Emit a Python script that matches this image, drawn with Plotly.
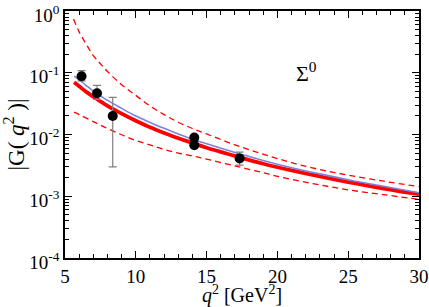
import plotly.graph_objects as go

# Curves
q2_curve = [5.64, 6.0, 6.5, 7.0, 7.5, 8.0, 9.0, 10.0, 11.0, 12.0, 13.0, 14.0, 15.0, 17.0, 19.0, 21.0, 23.0, 25.0, 27.5, 30.0]
g_central = [0.070, 0.0605, 0.049, 0.0410, 0.0345, 0.0292, 0.0218, 0.0167, 0.0131, 0.0106, 0.0087, 0.0073, 0.0061, 0.0045, 0.00336, 0.00262, 0.00209, 0.0017, 0.00133, 0.00108]
g_blue = [0.088, 0.077, 0.062, 0.0505, 0.0425, 0.0357, 0.0265, 0.0199, 0.0157, 0.0126, 0.0102, 0.0084, 0.0071, 0.0051, 0.0038, 0.0029, 0.0023, 0.00185, 0.00145, 0.00114]

q2_upper = [5.6, 6.0, 6.5, 7.0, 7.5, 8.0, 9.0, 10.0, 11.0, 12.0, 13.0, 14.0, 15.0, 17.0, 19.0, 21.0, 23.0, 25.0, 27.5, 30.0]
g_upper = [0.74, 0.46, 0.29, 0.19, 0.14, 0.105, 0.064, 0.043, 0.029, 0.021, 0.0158, 0.0125, 0.0102, 0.0068, 0.0048, 0.0035, 0.0027, 0.0022, 0.00175, 0.00143]

q2_lower = [5.64, 6.0, 7.0, 8.0, 9.0, 10.0, 11.0, 12.0, 13.0, 14.0, 15.0, 17.0, 19.0, 20.0, 22.5, 25.0, 27.5, 30.0]
g_lower = [0.0230, 0.0210, 0.0162, 0.0125, 0.0099, 0.0080, 0.0068, 0.0057, 0.0050, 0.0045, 0.0040, 0.0031, 0.0024, 0.0021, 0.0016, 0.00127, 0.00106, 0.00089]

# Data points
q2_data = [6.17, 7.26, 8.37, 14.13, 14.13, 17.33]
g_data = [0.088, 0.0465, 0.020, 0.0089, 0.0067, 0.0041]
err_plus = [0.020, 0.016, 0.020, 0.0, 0.0, 0.0011]
err_minus = [0.014, 0.0095, 0.017, 0.0, 0.0, 0.0009]

ytick_vals = [1e-4, 1e-3, 1e-2, 1e-1, 1]
ytick_text = ["10<sup>-4</sup>", "10<sup>-3</sup>", "10<sup>-2</sup>", "10<sup>-1</sup>", "10<sup>0</sup>"]
xtick_vals = [5, 10, 15, 20, 25, 30]

FONT = "Liberation Serif"

fig = go.Figure()
fig.add_trace(go.Scatter(x=q2_upper, y=g_upper, mode="lines", line=dict(color="#ff0000", width=1.3, dash="6px,4px", shape="spline"), showlegend=False))
fig.add_trace(go.Scatter(x=q2_lower, y=g_lower, mode="lines", line=dict(color="#ff0000", width=1.3, dash="6px,4px", shape="spline"), showlegend=False))
fig.add_trace(go.Scatter(x=q2_curve, y=g_central, mode="lines", line=dict(color="#ff0000", width=3.8, shape="spline"), showlegend=False))
fig.add_trace(go.Scatter(x=q2_curve, y=g_blue, mode="lines", line=dict(color="#8080d8", width=1.6, shape="spline"), showlegend=False))
fig.add_trace(go.Scatter(
    x=q2_data, y=g_data, mode="markers",
    marker=dict(color="black", size=10),
    error_y=dict(type="data", symmetric=False, array=err_plus, arrayminus=err_minus,
                 color="#808080", thickness=1.2, width=4),
    showlegend=False))

minor_y = [m * 10 ** e for e in range(-4, 0) for m in range(2, 10)]

fig.update_layout(
    width=429, height=307,
    margin=dict(l=65, r=10, t=11, b=49),
    plot_bgcolor="white", paper_bgcolor="white",
    font=dict(family=FONT, size=19, color="black"),
    annotations=[dict(text="Σ<sup>0</sup>", x=0.681, y=0.755, xref="paper", yref="paper",
                      xanchor="center", yanchor="middle",
                      showarrow=False, font=dict(family=FONT, size=22, color="black"))],
)
fig.update_xaxes(
    range=[5, 30], tickvals=xtick_vals, ticks="inside", ticklen=7, tickwidth=1, tickcolor="black",
    showline=True, linecolor="black", linewidth=1.5, mirror="ticks", showgrid=False, zeroline=False,
    minor=dict(dtick=1, ticks="inside", ticklen=4, tickcolor="black", showgrid=False),
    title=dict(text="<i>q</i><sup>2</sup> [GeV<sup>2</sup>]", font=dict(family=FONT, size=20), standoff=3),
    tickfont=dict(family=FONT, size=19), automargin=False, ticklabeloverflow="allow",
)
fig.update_yaxes(
    type="log", range=[-4.0005, 0.0005], tickvals=ytick_vals, ticktext=ytick_text,
    ticks="inside", ticklen=7, tickwidth=1, tickcolor="black",
    showline=True, linecolor="black", linewidth=1.5, mirror="ticks", showgrid=False, zeroline=False,
    minor=dict(tickvals=minor_y, ticks="inside", ticklen=4, tickcolor="black", showgrid=False),
    title=dict(text="|G( <i>q</i><sup>2</sup> )|", font=dict(family=FONT, size=23), standoff=0),
    tickfont=dict(family=FONT, size=19), automargin=False, ticklabeloverflow="allow",
    ticklabelshift=4,
)

fig.write_html("out.html", post_script="document.body.style.margin='0';",
               config={"displayModeBar": False})
